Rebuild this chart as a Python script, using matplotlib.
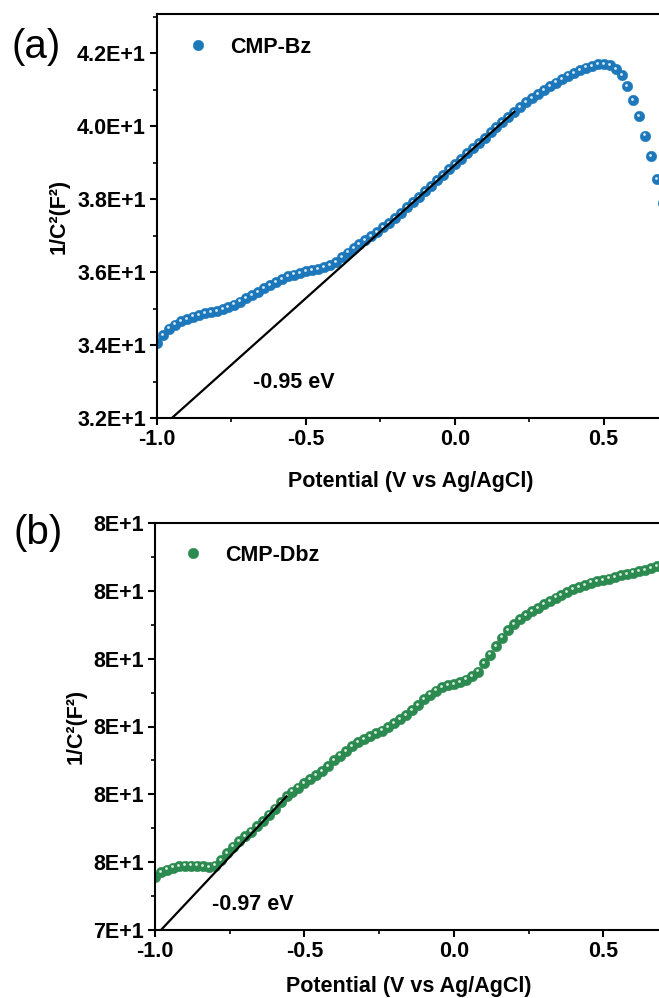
import matplotlib.pyplot as plt
from matplotlib.ticker import MultipleLocator, FuncFormatter
from matplotlib.transforms import offset_copy
from matplotlib.legend_handler import HandlerTuple

# =========================
# DATA
# =========================

potential = [
    -1.00, -0.98, -0.96, -0.94, -0.92, -0.90, -0.88, -0.86, -0.84, -0.82,
    -0.80, -0.78, -0.76, -0.74, -0.72, -0.70, -0.68, -0.66, -0.64, -0.62,
    -0.60, -0.58, -0.56, -0.54, -0.52, -0.50, -0.48, -0.46, -0.44, -0.42,
    -0.40, -0.38, -0.36, -0.34, -0.32, -0.30, -0.28, -0.26, -0.24, -0.22,
    -0.20, -0.18, -0.16, -0.14, -0.12, -0.10, -0.08, -0.06, -0.04, -0.02,
    0.00, 0.02, 0.04, 0.06, 0.08, 0.10, 0.12, 0.14, 0.16, 0.18,
    0.20, 0.22, 0.24, 0.26, 0.28, 0.30, 0.32, 0.34, 0.36, 0.38,
    0.40, 0.42, 0.44, 0.46, 0.48, 0.50, 0.52, 0.54, 0.56, 0.58,
    0.60, 0.62, 0.64, 0.66, 0.68, 0.70,
]

cmp_bz = [
    34.05, 34.28, 34.45, 34.56, 34.65, 34.72, 34.78, 34.83, 34.87, 34.90,
    34.94, 34.98, 35.04, 35.11, 35.19, 35.28, 35.37, 35.46, 35.55, 35.64,
    35.73, 35.81, 35.88, 35.93, 35.98, 36.02, 36.05, 36.09, 36.13, 36.19,
    36.28, 36.40, 36.53, 36.65, 36.76, 36.87, 36.98, 37.10, 37.22, 37.35,
    37.48, 37.62, 37.77, 37.92, 38.06, 38.21, 38.36, 38.51, 38.66, 38.81,
    38.95, 39.10, 39.25, 39.39, 39.54, 39.68, 39.83, 39.97, 40.11, 40.25,
    40.39, 40.52, 40.65, 40.77, 40.88, 40.99, 41.09, 41.19, 41.29, 41.38,
    41.46, 41.54, 41.60, 41.65, 41.69, 41.70, 41.67, 41.57, 41.40, 41.10,
    40.72, 40.27, 39.74, 39.18, 38.55, 37.90,
]

cmp_dbz = [
    74.78, 74.85, 74.89, 74.92, 74.94, 74.95, 74.95, 74.95, 74.94, 74.93,
    74.95, 75.03, 75.13, 75.23, 75.31, 75.38, 75.45, 75.53, 75.61, 75.70,
    75.79, 75.88, 75.97, 76.04, 76.10, 76.16, 76.22, 76.28, 76.34, 76.42,
    76.50, 76.57, 76.64, 76.71, 76.77, 76.82, 76.86, 76.90, 76.94, 76.99,
    77.05, 77.11, 77.17, 77.24, 77.32, 77.40, 77.47, 77.53, 77.58, 77.61,
    77.63, 77.66, 77.69, 77.74, 77.81, 77.93, 78.06, 78.19, 78.31, 78.42,
    78.51, 78.58, 78.64, 78.70, 78.75, 78.80, 78.85, 78.90, 78.94, 78.98,
    79.02, 79.05, 79.09, 79.12, 79.14, 79.16, 79.18, 79.20, 79.23, 79.25,
    79.27, 79.29, 79.31, 79.34, 79.37, 79.40,
]

# onset (x-intercept) and end of the linear fit for each panel
onset_a, fit_end_a = -0.95, 0.20
onset_b, fit_end_b = -0.98, -0.56

# =========================
# STYLE
# =========================

plt.rcParams['font.family'] = ['Liberation Sans', 'DejaVu Sans']
plt.rcParams['font.weight'] = 'bold'
plt.rcParams['axes.labelweight'] = 'bold'
plt.rcParams['axes.unicode_minus'] = False

BLUE = "#1c78ba"
GREEN = "#2b8a4f"

fig = plt.figure(figsize=(6.59, 9.98), dpi=100)

ax_a = fig.add_axes([157 / 659, 1 - 418 / 998, 536 / 659, 404 / 998])
ax_b = fig.add_axes([155 / 659, 1 - 930 / 998, 538 / 659, 407 / 998])


def fmt_a(v, pos):
    return f"{v:.1E}".replace("E+0", "E+")


def fmt_b(v, pos):
    return f"{v:.0E}".replace("E+0", "E+")


def sphere_plot(ax, x, y, color, label, anchor):
    body, = ax.plot(x, y, "o", ms=7.6, mfc=color, mec=color, mew=0.3,
                    linestyle="none")
    shine = offset_copy(ax.transData, fig=fig, x=-1.0, y=1.2, units="dots")
    hl, = ax.plot(x, y, "o", ms=2.0, mfc="white", mec="none", alpha=0.85,
                  linestyle="none", transform=shine)
    leg = ax.legend([(body, hl)], [label],
                    handler_map={tuple: HandlerTuple(ndivide=None)},
                    loc="center left", bbox_to_anchor=anchor,
                    frameon=False, handlelength=1.0, handletextpad=0.76,
                    borderaxespad=0, borderpad=0,
                    prop={"size": 15.5, "weight": "bold"})
    return leg


def style_axes(ax, ylo, yhi, ymaj, ymin, fmt):
    ax.set_xlim(-1.0, 0.8)
    ax.set_ylim(ylo, yhi)
    ax.xaxis.set_major_locator(MultipleLocator(0.5))
    ax.xaxis.set_minor_locator(MultipleLocator(0.25))
    ax.yaxis.set_major_locator(MultipleLocator(ymaj))
    ax.yaxis.set_minor_locator(MultipleLocator(ymin))
    ax.yaxis.set_major_formatter(FuncFormatter(fmt))
    for s in ax.spines.values():
        s.set_linewidth(1.5)
    ax.tick_params(which="major", direction="out", length=5, width=1.5,
                   labelsize=15.5, pad=3)
    ax.tick_params(which="minor", direction="out", length=3, width=1.2)
    for lab in ax.get_xticklabels() + ax.get_yticklabels():
        lab.set_fontweight("bold")
    ax.set_xlabel("Potential (V vs Ag/AgCl)", fontsize=15.5)
    ax.set_ylabel("1/C²(F²)", fontsize=15.5, labelpad=5)


# =========================
# PANEL (a)
# =========================

sphere_plot(ax_a, potential, cmp_bz, BLUE, "CMP-Bz", (0.066, 0.918))
style_axes(ax_a, 32, 43.07, 2, 1, fmt_a)
end_a = cmp_bz[potential.index(fit_end_a)]
ax_a.plot([onset_a, fit_end_a], [32, end_a], color="black", lw=1.6, zorder=3)
ax_a.text(-0.678, 32.96, "-0.95 eV", fontsize=15.5, fontweight="bold",
          ha="left", va="center")
ax_a.xaxis.set_label_coords(0.474, -0.13)
fig.text(12 / 659, 1 - 47 / 998, "(a)", fontsize=29, fontweight="normal",
         ha="left", va="center")

# =========================
# PANEL (b)
# =========================

sphere_plot(ax_b, potential, cmp_dbz, GREEN, "CMP-Dbz", (0.060, 0.921))
style_axes(ax_b, 74, 80, 1, 0.5, fmt_b)
end_b = cmp_dbz[potential.index(fit_end_b)]
ax_b.plot([onset_b, fit_end_b], [74, end_b], color="black", lw=1.6, zorder=3)
ax_b.text(-0.809, 74.38, "-0.97 eV", fontsize=15.5, fontweight="bold",
          ha="left", va="center")
ax_b.xaxis.set_label_coords(0.472, -0.112)
fig.text(14 / 659, 1 - 533 / 998, "(b)", fontsize=29, fontweight="normal",
         ha="left", va="center")

plt.savefig("out.png", dpi=100)
